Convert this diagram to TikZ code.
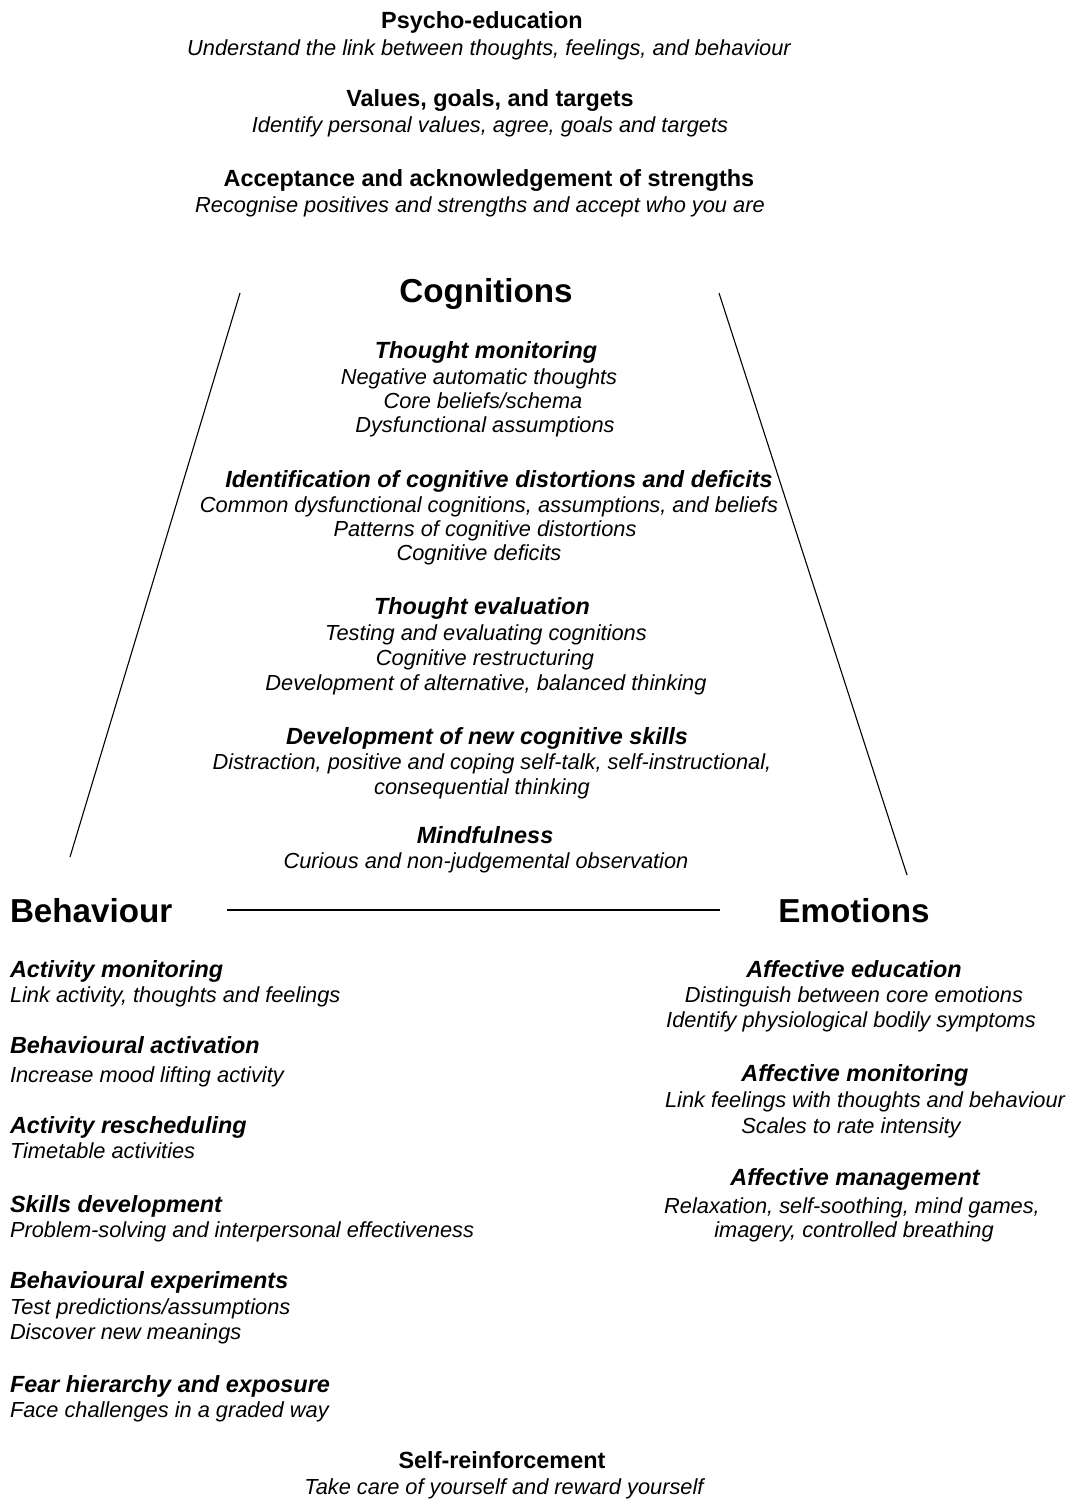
\documentclass[tikz,border=0pt]{standalone}
\usepackage{fontspec}
\setmainfont{Liberation Sans}
\begin{document}
\begin{tikzpicture}[x=1pt,y=-1pt,
  every node/.style={inner sep=0pt, outer sep=0pt, anchor=base},
  hd/.style={font=\fontsize{23.4}{26}\selectfont\bfseries},
  hi/.style={font=\fontsize{23.4}{26}\selectfont\bfseries\itshape},
  tx/.style={font=\fontsize{21.8}{24}\selectfont\itshape},
  big/.style={font=\fontsize{33.2}{38}\selectfont\bfseries},
  ln/.style={line width=1.1pt}]
\useasboundingbox (0,0) rectangle (1069,1499);
% top block
\node[hd] (p1) at (482,28) {Psycho-education};
\node[tx] (p2) at (489,55) {Understand the link between thoughts, feelings, and behaviour};
\node[hd] (v1) at (490,106) {Values, goals, and targets};
\node[tx] (v2) at (490,132) {Identify personal values, agree, goals and targets};
\node[hd] (a1) at (489,186) {Acceptance and acknowledgement of strengths};
\node[tx] (a2) at (480,212) {Recognise positives and strengths and accept who you are};
% cognitions
\node[big] (cog) at (486,302) {Cognitions};
\node[hi] (c1) at (486,358) {Thought monitoring};
\node[tx] (c1a) at (479,384) {Negative automatic thoughts};
\node[tx] (c1b) at (483,408) {Core beliefs/schema};
\node[tx] (c1c) at (485,432) {Dysfunctional assumptions};
\node[hi] (c2) at (499,487) {Identification of cognitive distortions and deficits};
\node[tx] (c2a) at (489,512) {Common dysfunctional cognitions, assumptions, and beliefs};
\node[tx] (c2b) at (485,536) {Patterns of cognitive distortions};
\node[tx] (c2c) at (479,560) {Cognitive deficits};
\node[hi] (c3) at (482,614) {Thought evaluation};
\node[tx] (c3a) at (486,640) {Testing and evaluating cognitions};
\node[tx] (c3b) at (485,665) {Cognitive restructuring};
\node[tx] (c3c) at (486,690) {Development of alternative, balanced thinking};
\node[hi] (c4) at (487,744) {Development of new cognitive skills};
\node[tx] (c4a) at (492,769) {Distraction, positive and coping self-talk, self-instructional,};
\node[tx] (c4b) at (482,794) {consequential thinking};
\node[hi] (c5) at (485,843) {Mindfulness};
\node[tx] (c5a) at (486,868) {Curious and non-judgemental observation};
% corners
\node[big, anchor=base west] (beh) at (10,922) {Behaviour};
\node[big] (emo) at (854,922) {Emotions};
% triangle lines
\coordinate (lt) at (240,293);
\coordinate (lb) at (70,857);
\coordinate (rt) at (719,293);
\coordinate (rb) at (907,875);
\coordinate (hl) at (227,910);
\coordinate (hr) at (720,910);
\draw[ln] (lt) -- (lb);
\draw[ln] (rt) -- (rb);
\draw[ln] (hl) -- (hr);
% behaviour column
\begin{scope}[every node/.append style={anchor=base west}]
\node[hi] (b1) at (10,977) {Activity monitoring};
\node[tx] (b1a) at (10,1002) {Link activity, thoughts and feelings};
\node[hi] (b2) at (10,1053) {Behavioural activation};
\node[tx] (b2a) at (10,1082) {Increase mood lifting activity};
\node[hi] (b3) at (10,1133) {Activity rescheduling};
\node[tx] (b3a) at (10,1158) {Timetable activities};
\node[hi] (b4) at (10,1212) {Skills development};
\node[tx] (b4a) at (10,1237) {Problem-solving and interpersonal effectiveness};
\node[hi] (b5) at (10,1288) {Behavioural experiments};
\node[tx] (b5a) at (10,1314) {Test predictions/assumptions};
\node[tx] (b5b) at (10,1339) {Discover new meanings};
\node[hi] (b6) at (10,1392) {Fear hierarchy and exposure};
\node[tx] (b6a) at (10,1417) {Face challenges in a graded way};
\end{scope}
% emotions column
\node[hi] (e1) at (854,977) {Affective education};
\node[tx] (e1a) at (854,1002) {Distinguish between core emotions};
\node[tx] (e1b) at (851,1027) {Identify physiological bodily symptoms};
\node[hi] (e2) at (855,1081) {Affective monitoring};
\node[tx] (e2a) at (865,1107) {Link feelings with thoughts and behaviour};
\node[tx] (e2b) at (851,1133) {Scales to rate intensity};
\node[hi] (e3) at (855,1185) {Affective management};
\node[tx] (e3a) at (852,1213) {Relaxation, self-soothing, mind games,};
\node[tx] (e3b) at (854,1237) {imagery, controlled breathing};
% bottom
\node[hd] (s1) at (502,1468) {Self-reinforcement};
\node[tx] (s2) at (504,1494) {Take care of yourself and reward yourself};
\end{tikzpicture}
\end{document}
